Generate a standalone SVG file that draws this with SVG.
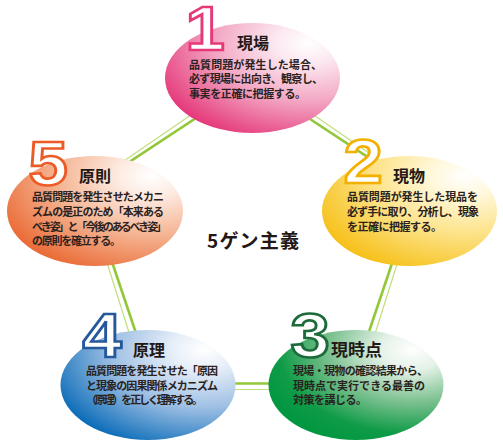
<svg xmlns="http://www.w3.org/2000/svg" width="503" height="448" viewBox="0 0 503 448">
<style>
.body{font-family:"Noto Sans CJK JP","Noto Sans",sans-serif;font-size:11px;font-weight:bold;fill:#2a2220}
.title{font-family:"Noto Sans CJK JP","Noto Sans",sans-serif;font-size:16px;font-weight:bold;fill:#231815}
.num{font-family:"Liberation Sans",Arial,sans-serif;font-size:63px;font-weight:bold;fill:#fff;stroke-width:2.6;text-anchor:middle}
.thick{stroke:#92c73a;stroke-width:2.6;fill:none}
.thin{stroke:#c2de7a;stroke-width:1.2;fill:none}
</style>
<defs>
<radialGradient id="gPink" cx="0.82" cy="0.18" r="0.95" fx="0.82" fy="0.18">
<stop offset="0" stop-color="#ffffff"/><stop offset="0.2" stop-color="#fce8f0"/><stop offset="0.55" stop-color="#f3a9c5"/><stop offset="1" stop-color="#e5387a"/>
</radialGradient>
<radialGradient id="gOrange" cx="0.82" cy="0.18" r="0.95" fx="0.82" fy="0.18">
<stop offset="0" stop-color="#ffffff"/><stop offset="0.2" stop-color="#fdebe2"/><stop offset="0.55" stop-color="#f5b796"/><stop offset="1" stop-color="#ea6a35"/>
</radialGradient>
<radialGradient id="gYellow" cx="0.82" cy="0.18" r="0.95" fx="0.82" fy="0.18">
<stop offset="0" stop-color="#ffffff"/><stop offset="0.2" stop-color="#fff8dc"/><stop offset="0.55" stop-color="#fde38a"/><stop offset="1" stop-color="#f6c017"/>
</radialGradient>
<radialGradient id="gBlue" cx="0.82" cy="0.18" r="0.95" fx="0.82" fy="0.18">
<stop offset="0" stop-color="#ffffff"/><stop offset="0.2" stop-color="#e6eef8"/><stop offset="0.55" stop-color="#9fc0e4"/><stop offset="1" stop-color="#0b6cb8"/>
</radialGradient>
<radialGradient id="gGreen" cx="0.82" cy="0.18" r="0.95" fx="0.82" fy="0.18">
<stop offset="0" stop-color="#ffffff"/><stop offset="0.2" stop-color="#e3f1e6"/><stop offset="0.5" stop-color="#7cc190"/><stop offset="0.8" stop-color="#0f9b47"/><stop offset="1" stop-color="#009640"/>
</radialGradient>
</defs>
<rect width="503" height="448" fill="#fff"/>
<g id="connectors">
<line class="thin" x1="212" y1="100.5" x2="118" y2="165.1"/>
<line class="thick" x1="215" y1="105.5" x2="120" y2="168.2"/>
<line class="thin" x1="292.5" y1="100.5" x2="386.5" y2="165.1"/>
<line class="thick" x1="289.5" y1="105.5" x2="384.5" y2="168.2"/>
<line class="thin" x1="103" y1="250" x2="133" y2="345"/>
<line class="thick" x1="108" y1="250" x2="140" y2="345"/>
<line class="thin" x1="401.5" y1="250" x2="371.5" y2="345"/>
<line class="thick" x1="396.5" y1="250" x2="364.5" y2="345"/>
<line class="thin" x1="215" y1="389.5" x2="290" y2="389.5"/>
<line class="thick" x1="215" y1="383.5" x2="290" y2="383.5"/>
</g>
<g id="node1">
<ellipse cx="252.5" cy="78" rx="87.5" ry="55" fill="url(#gPink)"/>
<text class="num" transform="translate(205,50) scale(1.12,1)" stroke="#e6397a">1</text>
<text class="title" x="237" y="49">現場</text>
<text class="body" x="189" y="68.5" textLength="133" lengthAdjust="spacing">品質問題が発生した場合、</text>
<text class="body" x="189" y="83" textLength="134" lengthAdjust="spacing">必ず現場に出向き、観察し、</text>
<text class="body" x="189" y="97.5" textLength="117" lengthAdjust="spacing">事実を正確に把握する。</text>
</g>
<g id="node2">
<ellipse cx="409.5" cy="211" rx="87.5" ry="55" fill="url(#gYellow)"/>
<text class="num" transform="translate(363,183) scale(1.12,1)" stroke="#f4b000">2</text>
<text class="title" x="393" y="182">現物</text>
<text class="body" x="347" y="201" textLength="131" lengthAdjust="spacing">品質問題が発生した現品を</text>
<text class="body" x="347" y="216" textLength="132" lengthAdjust="spacing">必ず手に取り、分析し、現象</text>
<text class="body" x="347" y="231" textLength="95" lengthAdjust="spacing">を正確に把握する。</text>
</g>
<g id="node3">
<ellipse cx="356" cy="385" rx="87.5" ry="55" fill="url(#gGreen)"/>
<text class="num" transform="translate(310,357) scale(1.12,1)" stroke="#1d6a3a">3</text>
<text class="title" x="331" y="356" style="font-size:17px">現時点</text>
<text class="body" x="293" y="375" textLength="135" lengthAdjust="spacing">現場・現物の確認結果から、</text>
<text class="body" x="293" y="390" textLength="132" lengthAdjust="spacing">現時点で実行できる最善の</text>
<text class="body" x="293" y="404" textLength="74" lengthAdjust="spacing">対策を講じる。</text>
</g>
<g id="node4">
<ellipse cx="148" cy="385" rx="87.5" ry="55" fill="url(#gBlue)"/>
<text class="num" transform="translate(102,357) scale(1.12,1)" stroke="#26599b">4</text>
<text class="title" x="133" y="356">原理</text>
<text class="body" x="86" y="375" textLength="132" lengthAdjust="spacing">品質問題を発生させた「原因</text>
<text class="body" x="86" y="390" textLength="132" lengthAdjust="spacing">と現象の因果関係メカニズム</text>
<text class="body" x="86" y="404" textLength="117" lengthAdjust="spacing">（原理）を正しく理解する。</text>
</g>
<g id="node5">
<ellipse cx="95" cy="211" rx="88" ry="55" fill="url(#gOrange)"/>
<text class="num" transform="translate(48,185) scale(1.12,1)" stroke="#ec5b26">5</text>
<text class="title" x="79" y="182">原則</text>
<text class="body" x="32" y="201" textLength="132" lengthAdjust="spacing">品質問題を発生させたメカニ</text>
<text class="body" x="32" y="216" textLength="132" lengthAdjust="spacing">ズムの是正のため「本来ある</text>
<text class="body" x="32" y="231" textLength="135" lengthAdjust="spacing">べき姿」と「今後のあるべき姿」</text>
<text class="body" x="32" y="245" textLength="89" lengthAdjust="spacing">の原則を確立する。</text>
</g>
<g id="center">
<text x="207" y="248" textLength="92" lengthAdjust="spacing" style="font-family:'Noto Sans CJK JP','Noto Sans',sans-serif;font-size:19px;font-weight:bold;fill:#231815">5ゲン主義</text>
</g>
</svg>
